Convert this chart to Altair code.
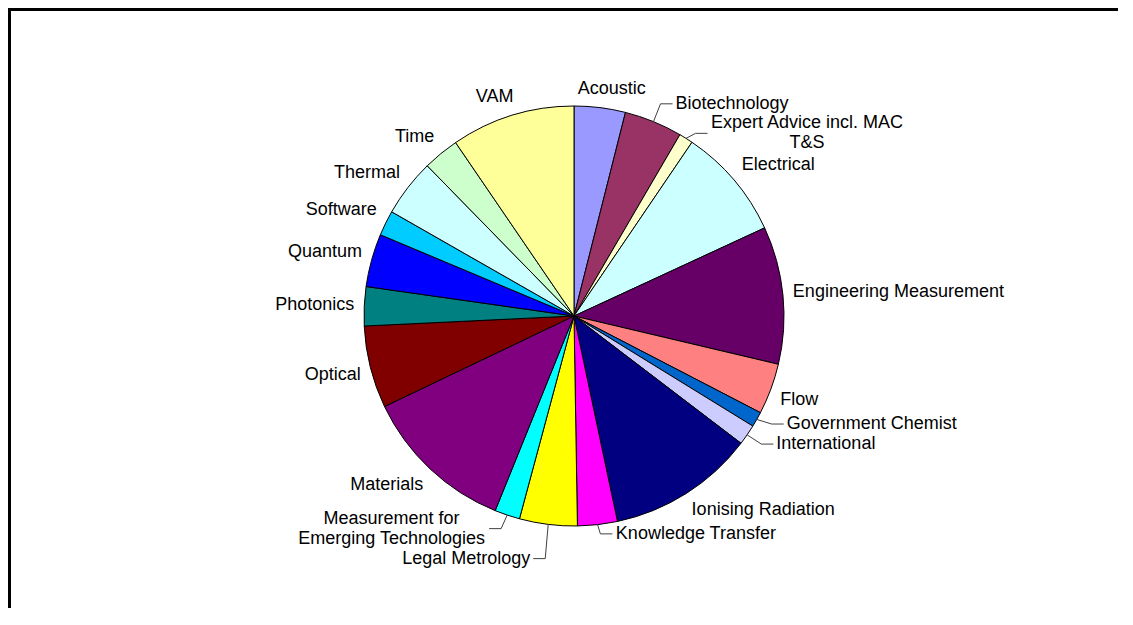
import math
import altair as alt
import pandas as pd

categories = [
    "Acoustic", "Biotechnology", "Expert Advice incl. MAC\nT&S", "Electrical",
    "Engineering Measurement", "Flow", "Government Chemist", "International",
    "Ionising Radiation", "Knowledge Transfer", "Legal Metrology",
    "Measurement for\nEmerging Technologies", "Materials", "Optical", "Photonics",
    "Quantum", "Software", "Thermal", "Time", "VAM",
]
shares = [3.94, 4.47, 1.08, 8.61, 10.58, 3.92, 1.17, 1.58, 11.31, 3.06,
          4.44, 1.94, 11.78, 6.33, 3.00, 4.08, 1.94, 4.42, 2.78, 9.53]
colors = ["#9999FF", "#993366", "#FFFFCC", "#CCFFFF", "#660066", "#FF8080",
          "#0066CC", "#CCCCFF", "#000080", "#FF00FF", "#FFFF00", "#00FFFF",
          "#800080", "#800000", "#008080", "#0000FF", "#00CCFF", "#CCFFFF",
          "#CCFFCC", "#FFFF99"]

# ---- layout settings ----
W, H = 1110, 600
CX, CY, R = 566.0, 308.0, 210.0
FONT = "Liberation Sans"
FS = 18
LH = 20
GAP = 10
PADX, PADY = 10, 2

# Arial / Liberation Sans advance widths (per 1000 em)
ADV = {" ": 278, "&": 667, ".": 278,
       "A": 667, "B": 667, "C": 722, "E": 667, "F": 611, "G": 778, "I": 278,
       "K": 667, "L": 556, "M": 833, "O": 778, "P": 667, "Q": 778, "R": 722,
       "S": 667, "T": 611, "V": 667,
       "a": 556, "b": 556, "c": 500, "d": 556, "e": 556, "f": 278, "g": 556,
       "h": 556, "i": 222, "k": 500, "l": 222, "m": 833, "n": 556, "o": 556,
       "p": 556, "r": 333, "s": 500, "t": 278, "u": 556, "v": 500, "w": 722,
       "x": 500, "y": 500}


def text_w(s):
    return sum(ADV.get(ch, 556) for ch in s) / 1000.0 * FS


def overlaps(b, others):
    for o in others:
        if b[0] < o[1] + PADX and b[1] > o[0] - PADX and b[2] < o[3] + PADY and b[3] > o[2] - PADY:
            return True
    return False


def clamp(t):
    return max(-1.0, min(1.0, t))


total = sum(shares)
slices = []
cum = 0.0
for i, (name, v) in enumerate(zip(categories, shares)):
    a0 = cum / total * 2 * math.pi
    cum += v
    a1 = cum / total * 2 * math.pi
    slices.append((i, name, a0, a1))

# place labels from top to bottom on each side (right side first)
right = [sl for sl in slices if math.sin((sl[2] + sl[3]) / 2) >= 0]
left = [sl for sl in slices if math.sin((sl[2] + sl[3]) / 2) < 0][::-1]

label_rows, leader_rows, placed = [], [], []
for (i, name, a0, a1) in right + left:
    mid = (a0 + a1) / 2
    sweep = a1 - a0
    s, c = math.sin(mid), math.cos(mid)
    lines = name.split("\n")
    w = max(text_w(l) for l in lines)
    h = FS * 0.95 + LH * (len(lines) - 1)
    px, py = CX + R * s, CY - R * c
    qx, qy = CX + (R + GAP) * s, CY - (R + GAP) * c
    bx = qx + (w / 2) * clamp(2.5 * s)
    by = qy - (h / 2) * clamp(2.5 * c)

    def box(x, y):
        return (x - w / 2, x + w / 2, y - h / 2, y + h / 2)

    small = sweep < math.radians(6) or (sweep < math.radians(8) and c < 0)
    near_bottom = c < 0 and abs(s) < 0.2
    leader = small or near_bottom or overlaps(box(bx, by), placed)
    if leader:
        side = 1 if s >= 0 else -1
        edge = px + side * (16 + 16 * abs(s))
        bx = edge + side * w / 2
        if c < 0:
            by = py - c * (GAP + h / 2) * 0.5
        n = 0
        while overlaps(box(bx, by), placed) and n < 300:
            by += 1
            n += 1
        t_end = edge - side * 3
        t_start = t_end - side * 12
        for k, (x, y) in enumerate([(px, py), (t_start, by), (t_end, by)]):
            leader_rows.append({"name": name, "k": k, "x": x, "y": y})
    placed.append(box(bx, by))
    # Vega draws the first line at y: shift multi-line blocks so they are centred
    label_rows.append({"name": name, "x": bx, "y": by - LH * (len(lines) - 1) / 2})

pie_df = pd.DataFrame({"name": categories, "share": shares, "idx": list(range(len(categories)))})
lab_df = pd.DataFrame(label_rows)
lead_df = pd.DataFrame(leader_rows)
one = pd.DataFrame({"k": [0]})

frame_top = alt.Chart(one).mark_rule(color="black", strokeWidth=3).encode(
    x=alt.value(0), x2=alt.value(W), y=alt.value(1.5))
frame_left = alt.Chart(one).mark_rule(color="black", strokeWidth=3).encode(
    x=alt.value(1.5), y=alt.value(0), y2=alt.value(H))

pie = alt.Chart(pie_df).mark_arc(radius=R, stroke="black", strokeWidth=1).encode(
    theta=alt.Theta("share:Q", stack=True),
    color=alt.Color("name:N", scale=alt.Scale(domain=categories, range=colors), legend=None),
    order=alt.Order("idx:Q"),
    x=alt.value(CX), y=alt.value(CY),
)

leaders = alt.Chart(lead_df).mark_line(color="#404040", strokeWidth=1).encode(
    x=alt.X("x:Q", scale=None, axis=None),
    y=alt.Y("y:Q", scale=None, axis=None),
    detail="name:N",
    order="k:Q",
)

labels = alt.Chart(lab_df).mark_text(
    font=FONT, fontSize=FS, color="black", align="center", baseline="middle",
    lineBreak="\n", lineHeight=LH,
).encode(
    x=alt.X("x:Q", scale=None, axis=None),
    y=alt.Y("y:Q", scale=None, axis=None),
    text="name:N",
)

chart = alt.layer(frame_top, frame_left, pie, leaders, labels).properties(
    width=W, height=H, autosize=alt.AutoSizeParams(type="none"), padding=0,
    background="white",
).configure_view(stroke=None)

chart.save("out.html", embed_options={"renderer": "svg", "actions": False})
